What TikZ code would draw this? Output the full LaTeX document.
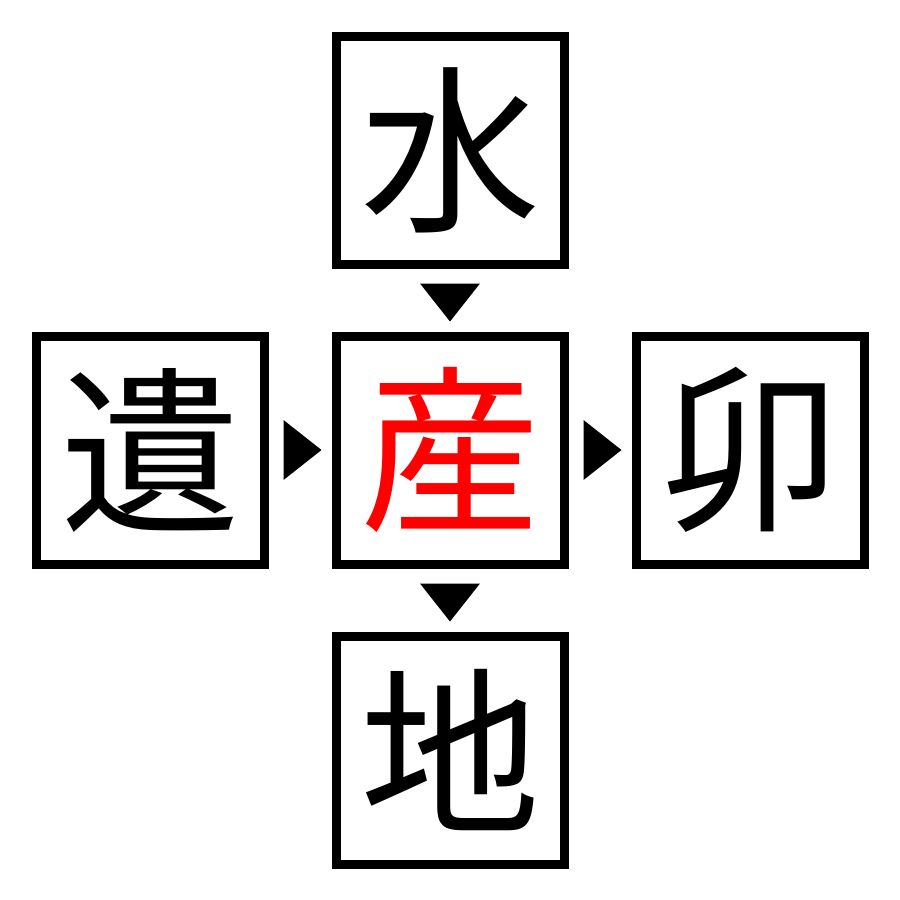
\documentclass[tikz,border=0pt]{standalone}
\usepackage{fontspec}
\newfontfamily\cjk{Noto Sans CJK JP}
\usetikzlibrary{calc}
\begin{document}
\begin{tikzpicture}[x=1pt,y=-1pt,
 kbox/.style={draw=black,line width=9pt,minimum size=228pt,inner sep=0pt,font=\cjk\fontsize{180}{180}\selectfont},
 tri/.style={fill=black}]
\useasboundingbox (0,0) rectangle (900,900);
\node[kbox] (t) at (450,150) {水};
\node[kbox,text=red] (c) at (450,450) {産};
\node[kbox] (l) at (150,450) {遺};
\node[kbox] (r) at (750,450) {卯};
\node[kbox] (b) at (450,750) {地};
\fill[tri] ($(t.south)+(-30,15)$) -- ($(t.south)+(30,15)$) -- ($(c.north)+(0,-10)$) -- cycle;
\fill[tri] ($(c.south)+(-30,15)$) -- ($(c.south)+(30,15)$) -- ($(b.north)+(0,-10)$) -- cycle;
\fill[tri] ($(l.east)+(15,-30)$) -- ($(l.east)+(15,30)$) -- ($(c.west)+(-10,0)$) -- cycle;
\fill[tri] ($(c.east)+(15,-30)$) -- ($(c.east)+(15,30)$) -- ($(r.west)+(-10,0)$) -- cycle;
\end{tikzpicture}
\end{document}
